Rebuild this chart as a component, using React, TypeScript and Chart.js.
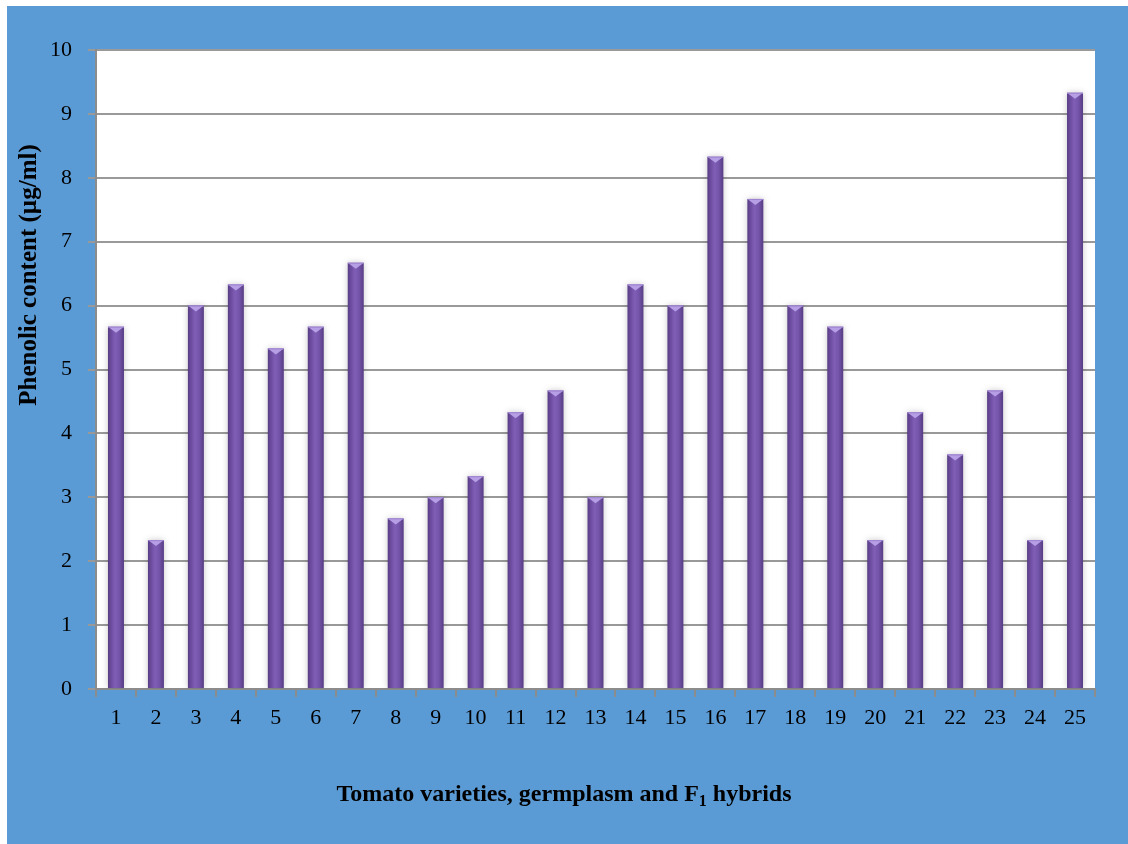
import React, { useEffect, useRef } from "react";
import { Chart, registerables } from "chart.js";

Chart.register(...registerables);

const categories = ["1","2","3","4","5","6","7","8","9","10","11","12","13","14","15","16","17","18","19","20","21","22","23","24","25"];
const phenolic = [5.67, 2.33, 6.0, 6.33, 5.33, 5.67, 6.67, 2.67, 3.0, 3.33, 4.33, 4.67, 3.0, 6.33, 6.0, 8.33, 7.67, 6.0, 5.67, 2.33, 4.33, 3.67, 4.67, 2.33, 9.33];
const yTicks = [0, 1, 2, 3, 4, 5, 6, 7, 8, 9, 10];
const yTitle = "Phenolic content (µg/ml)";
const xTitleMain = "Tomato varieties, germplasm and F";
const xTitleSub = "1";
const xTitleEnd = " hybrids";

const SERIF = "'Liberation Serif', 'Times New Roman', serif";

const areaPlugin = {
  id: "plotArea",
  beforeDraw(chart: any) {
    const { ctx, chartArea } = chart;
    if (!chartArea) return;
    ctx.save();
    ctx.fillStyle = "#ffffff";
    ctx.fillRect(chartArea.left, chartArea.top, chartArea.right - chartArea.left, chartArea.bottom - chartArea.top);
    ctx.restore();
  },
  afterDraw(chart: any) {
    const ctx = chart.ctx;
    // y-axis title
    ctx.save();
    ctx.translate(23, 269);
    ctx.rotate(-Math.PI / 2);
    ctx.font = `bold 25px ${SERIF}`;
    ctx.fillStyle = "#000";
    ctx.textAlign = "center";
    ctx.textBaseline = "middle";
    ctx.fillText(yTitle, 0, 0);
    ctx.restore();
    // x-axis title with subscript
    ctx.save();
    ctx.fillStyle = "#000";
    ctx.textBaseline = "alphabetic";
    ctx.textAlign = "left";
    const mainFont = `bold 24px ${SERIF}`;
    const subFont = `bold 16px ${SERIF}`;
    ctx.font = mainFont;
    const w1 = ctx.measureText(xTitleMain).width;
    const w3 = ctx.measureText(xTitleEnd).width;
    ctx.font = subFont;
    const w2 = ctx.measureText(xTitleSub).width;
    const total = w1 + w2 + w3;
    const cx = 557;
    const base = 795;
    let x = cx - total / 2;
    ctx.font = mainFont;
    ctx.fillText(xTitleMain, x, base);
    x += w1;
    ctx.font = subFont;
    ctx.fillText(xTitleSub, x, base + 5);
    x += w2;
    ctx.font = mainFont;
    ctx.fillText(xTitleEnd, x, base);
    ctx.restore();
  },
};

const bevelPlugin = {
  id: "bevel",
  beforeDatasetsDraw(chart: any) {
    const ctx = chart.ctx;
    const meta = chart.getDatasetMeta(0);
    meta.data.forEach((el: any) => {
      const x = el.x;
      const w = el.width;
      const g = ctx.createLinearGradient(x - w / 2, 0, x + w / 2, 0);
      g.addColorStop(0, "#583c84");
      g.addColorStop(0.2, "#6c4c9f");
      g.addColorStop(0.45, "#805eb6");
      g.addColorStop(0.7, "#7455aa");
      g.addColorStop(1, "#583c84");
      el.options = Object.assign({}, el.options, { backgroundColor: g, borderWidth: 0 });
    });
    ctx.save();
    ctx.shadowColor = "rgba(0,0,0,0.22)";
    ctx.shadowBlur = 6;
    ctx.shadowOffsetX = 0;
    ctx.shadowOffsetY = 0;
  },
  afterDatasetsDraw(chart: any) {
    const ctx = chart.ctx;
    ctx.restore();
    const meta = chart.getDatasetMeta(0);
    meta.data.forEach((el: any) => {
      const x = el.x;
      const w = el.width;
      const top = el.y;
      ctx.save();
      ctx.beginPath();
      ctx.moveTo(x - w / 2, top);
      ctx.lineTo(x + w / 2, top);
      ctx.lineTo(x, top + 6);
      ctx.closePath();
      ctx.fillStyle = "#b79fe6";
      ctx.fill();
      ctx.beginPath();
      ctx.moveTo(x - w / 2, top + 0.5);
      ctx.lineTo(x + w / 2, top + 0.5);
      ctx.strokeStyle = "#9d82cf";
      ctx.lineWidth = 1;
      ctx.stroke();
      ctx.restore();
    });
  },
};

export default function App() {
  const ref = useRef<HTMLCanvasElement | null>(null);

  useEffect(() => {
    if (!ref.current) return;
    const chart = new Chart(ref.current, {
      type: "bar",
      data: {
        labels: categories,
        datasets: [
          {
            data: phenolic,
            backgroundColor: () => "#6c4c9f",
            categoryPercentage: 1,
            barPercentage: 0.4,
          },
        ],
      },
      plugins: [areaPlugin, bevelPlugin],
      options: {
        responsive: false,
        animation: false,
        layout: { padding: { left: 0, top: 44, right: 33, bottom: 0 } },
        plugins: {
          legend: { display: false },
          tooltip: { enabled: false },
          title: { display: false },
        },
        scales: {
          x: {
            grid: {
              display: true,
              drawOnChartArea: false,
              drawTicks: true,
              tickLength: 8,
              color: "#8c8c8c",
              lineWidth: 2,
              offset: true,
            },
            border: { display: true, color: "#8c8c8c", width: 2 },
            ticks: {
              color: "#000",
              font: { family: SERIF, size: 22 },
              padding: 8,
              maxRotation: 0,
              autoSkip: false,
            },
            afterFit(scale: any) {
              scale.height = 155;
            },
          },
          y: {
            min: 0,
            max: 10,
            afterBuildTicks(scale: any) {
              scale.ticks = yTicks.map((v) => ({ value: v }));
            },
            grid: {
              color: "#999999",
              lineWidth: 2,
              tickLength: 8,
              drawTicks: true,
            },
            border: { display: true, color: "#8c8c8c", width: 2 },
            ticks: {
              color: "#000",
              font: { family: SERIF, size: 22 },
              padding: 16,
            },
            title: { display: false },
            afterFit(scale: any) {
              scale.width = 89;
            },
          },
        },
      },
    });
    return () => chart.destroy();
  }, []);

  return (
    <canvas
      ref={ref}
      width={1121}
      height={838}
      style={{ position: "fixed", left: 7, top: 6, width: 1121, height: 838, background: "#5b9bd5" }}
    />
  );
}
